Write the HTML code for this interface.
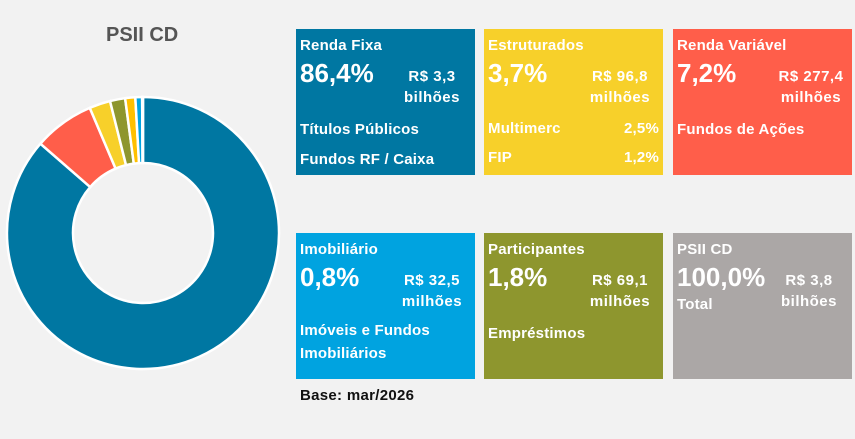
<!DOCTYPE html>
<html><head><meta charset="utf-8"><style>
body{margin:0;width:855px;height:439px;background:#f2f2f2;font-family:"Liberation Sans",Arial,sans-serif;position:relative;overflow:hidden;color:#fff;font-weight:bold}
.b{position:absolute;width:179px;height:146px}
.t{position:absolute;font-size:15px;white-space:nowrap;letter-spacing:0.2px}
.p{position:absolute;font-size:26px;white-space:nowrap}
.a{position:absolute;font-size:15px;text-align:center;line-height:21px;letter-spacing:0.5px;width:90px;left:91px}
</style></head><body>
<div style="position:absolute;left:106px;top:24px;font-size:20px;color:#555;font-weight:bold">PSII CD</div>
<svg id="s" width="290" height="439" style="position:absolute;left:0;top:0"></svg>

<div class="b" style="left:296px;top:29px;background:#0077a2">
 <div class="t" style="left:4px;top:8px">Renda Fixa</div>
 <div class="p" style="left:4px;top:29px">86,4%</div>
 <div class="a" style="top:37px">R$ 3,3<br>bilhões</div>
 <div class="t" style="left:4px;top:92px">Títulos Públicos</div>
 <div class="t" style="left:4px;top:122px">Fundos RF / Caixa</div>
</div>
<div class="b" style="left:484px;top:29px;background:#f7d02a">
 <div class="t" style="left:4px;top:8px">Estruturados</div>
 <div class="p" style="left:4px;top:29px">3,7%</div>
 <div class="a" style="top:37px">R$ 96,8<br>milhões</div>
 <div class="t" style="left:4px;top:91px">Multimerc</div>
 <div class="t" style="right:4px;top:91px">2,5%</div>
 <div class="t" style="left:4px;top:120px">FIP</div>
 <div class="t" style="right:4px;top:120px">1,2%</div>
</div>
<div class="b" style="left:673px;top:29px;background:#ff5e4a">
 <div class="t" style="left:4px;top:8px">Renda Variável</div>
 <div class="p" style="left:4px;top:29px">7,2%</div>
 <div class="a" style="top:37px;left:93px">R$ 277,4<br>milhões</div>
 <div class="t" style="left:4px;top:92px">Fundos de Ações</div>
</div>
<div class="b" style="left:296px;top:233px;background:#00a3e0">
 <div class="t" style="left:4px;top:8px">Imobiliário</div>
 <div class="p" style="left:4px;top:29px">0,8%</div>
 <div class="a" style="top:37px">R$ 32,5<br>milhões</div>
 <div class="t" style="left:4px;top:89px">Imóveis e Fundos</div>
 <div class="t" style="left:4px;top:112px">Imobiliários</div>
</div>
<div class="b" style="left:484px;top:233px;background:#8e962e">
 <div class="t" style="left:4px;top:8px">Participantes</div>
 <div class="p" style="left:4px;top:29px">1,8%</div>
 <div class="a" style="top:37px">R$ 69,1<br>milhões</div>
 <div class="t" style="left:4px;top:92px">Empréstimos</div>
</div>
<div class="b" style="left:673px;top:233px;background:#aba7a6">
 <div class="t" style="left:4px;top:8px">PSII CD</div>
 <div class="p" style="left:4px;top:29px">100,0%</div>
 <div class="a" style="top:37px">R$ 3,8<br>bilhões</div>
 <div class="t" style="left:4px;top:63px">Total</div>
</div>
<div style="position:absolute;left:300px;top:387px;font-size:15px;color:#111;letter-spacing:0.3px">Base: mar/2026</div>
<script>
var cx=143,cy=233,R=136,r=70,s=document.getElementById('s');
var d=[[86.4,'#0077a2'],[7.2,'#ff5e4a'],[2.5,'#f7d02a'],[1.8,'#8e962e'],[1.2,'#ffc000'],[0.8,'#00a3e0'],[0.1,'#f2f2f2']];
var a=0,h='';
function pt(ang,rad){var t=(ang-90)*Math.PI/180;return (cx+rad*Math.cos(t)).toFixed(2)+' '+(cy+rad*Math.sin(t)).toFixed(2);}
d.forEach(function(v){var b=a+v[0]*3.6,l=(b-a)>180?1:0;
h+='<path d="M'+pt(a,R)+' A'+R+' '+R+' 0 '+l+' 1 '+pt(b,R)+' L'+pt(b,r)+' A'+r+' '+r+' 0 '+l+' 0 '+pt(a,r)+' Z" fill="'+v[1]+'" stroke="#fff" stroke-width="2.5"/>';a=b;});
s.innerHTML=h;
</script>
</body></html>
